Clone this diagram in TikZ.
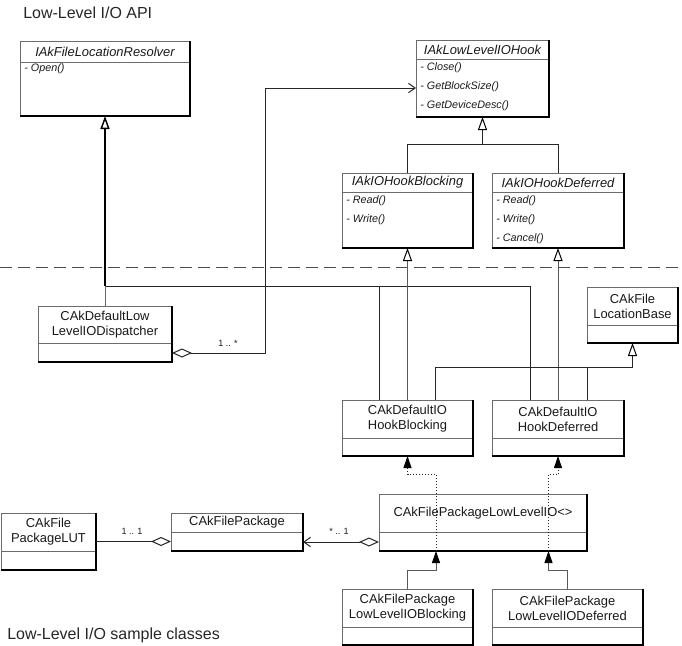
\documentclass[tikz,border=0pt]{standalone}
\usepackage{fontspec}
\setmainfont{Liberation Sans}
\usetikzlibrary{arrows.meta}
\definecolor{bgray}{gray}{0.42}
\newcommand\boxdeco[2]{%
  \draw[sepl] (#1.west |- 0,#2) -- (#1.east |- 0,#2);
  \draw[shadeedge] (#1.north east) -- (#1.south east) -- (#1.south west);}
\begin{document}
\begin{tikzpicture}[x=0.75pt,y=-0.75pt,
  cls/.style={draw=bgray,line width=0.75pt,inner sep=0pt,outer sep=0pt,anchor=north west},
  shadeedge/.style={draw=black,line width=1.3pt},
  sepl/.style={draw=bgray,line width=0.75pt},
  cname/.style={font=\fontsize{9.7}{11.25}\selectfont,align=center,inner sep=0pt,text=black!90},
  iname/.style={font=\fontsize{9.7}{11.25}\selectfont\itshape,inner sep=0pt,text=black!90},
  member/.style={font=\fontsize{8.1}{9}\selectfont\itshape,anchor=west,inner sep=0pt,text=black!90},
  mult/.style={font=\fontsize{6.8}{8}\selectfont,inner sep=0pt,text=black!90},
  heading/.style={font=\fontsize{12}{14}\selectfont,anchor=west,inner sep=0pt,text=black!85},
  conn/.style={draw=black!85,line width=0.75pt},
  gen/.style={conn,-{Triangle[open,length=9.75pt,width=6.75pt,fill=white,color=black]}},
  real/.style={conn,-{Triangle[length=9pt,width=6pt,color=black]}},
  aggnav/.style={conn,{Diamond[open,length=15pt,width=6.75pt,fill=white]}-{Straight Barb[length=5pt,width=7pt]}},
  aggl/.style={conn,{Diamond[open,length=15pt,width=6.75pt,fill=white]}-},
  dots/.style={dash pattern=on 0.75pt off 1.5pt}
]
\useasboundingbox (0,0) rectangle (682,646);

% headings
\node[heading] (h1) at (23,13) {Low-Level I/O API};
\node[heading] (h2) at (7,635) {Low-Level I/O sample classes};

% dashed separator
\draw[draw=black!70,line width=0.75pt,dash pattern=on 9pt off 4.5pt] (0,267) -- (682,267);

% ---------- boxes ----------
\node[cls,minimum width=127.5pt,minimum height=56.25pt] (res) at (20,41) {};
\node[cls,minimum width=99.75pt,minimum height=57.75pt] (hook) at (416,40) {};
\node[cls,minimum width=98.25pt,minimum height=56.25pt] (blk) at (342,173) {};
\node[cls,minimum width=99pt,minimum height=56.25pt] (dfr) at (492,173) {};
\node[cls,minimum width=100.5pt,minimum height=42pt] (disp) at (38,306) {};
\node[cls,minimum width=68.25pt,minimum height=42pt] (locb) at (587,287) {};
\node[cls,minimum width=98.25pt,minimum height=42pt] (dblk) at (342,400) {};
\node[cls,minimum width=99pt,minimum height=42pt] (ddfr) at (492,400) {};
\node[cls,minimum width=156pt,minimum height=42.75pt] (fpio) at (379,494) {};
\node[cls,minimum width=71.25pt,minimum height=42.75pt] (lut) at (1,513) {};
\node[cls,minimum width=99pt,minimum height=28.5pt] (fpk) at (171,513) {};
\node[cls,minimum width=98.25pt,minimum height=42pt] (fpb) at (342,589) {};
\node[cls,minimum width=113.25pt,minimum height=42pt] (fpd) at (492,589) {};

\boxdeco{res}{62}
\boxdeco{hook}{59}
\boxdeco{blk}{192}
\boxdeco{dfr}{192}
\boxdeco{disp}{343}
\boxdeco{locb}{325}
\boxdeco{dblk}{438}
\boxdeco{ddfr}{438}
\boxdeco{fpio}{532}
\boxdeco{lut}{551}
\boxdeco{fpk}{532}
\boxdeco{fpb}{627}
\boxdeco{fpd}{627}

% ---------- texts ----------
\node[iname] (res-t) at (105,51.5) {IAkFileLocationResolver};
\node[member] (res-m1) at (24,69) {- Open()};

\node[iname] (hook-t) at (482.5,49.5) {IAkLowLevelIOHook};
\node[member] (hook-m1) at (420,68) {- Close()};
\node[member] (hook-m2) at (420,87) {- GetBlockSize()};
\node[member] (hook-m3) at (420,106) {- GetDeviceDesc()};

\node[iname] (blk-t) at (407.5,182.5) {IAkIOHookBlocking};
\node[member] (blk-m1) at (346,201) {- Read()};
\node[member] (blk-m2) at (346,220) {- Write()};

\node[iname] (dfr-t) at (558,182.5) {IAkIOHookDeferred};
\node[member] (dfr-m1) at (496,201) {- Read()};
\node[member] (dfr-m2) at (496,220) {- Write()};
\node[member] (dfr-m3) at (496,239) {- Cancel()};

\node[cname] (disp-t) at (105,324.5) {CAkDefaultLow\\LevelIODispatcher};
\node[cname] (locb-t) at (632.5,306) {CAkFile\\LocationBase};
\node[cname] (dblk-t) at (407.5,419) {CAkDefaultIO\\HookBlocking};
\node[cname] (ddfr-t) at (558,419) {CAkDefaultIO\\HookDeferred};
\node[cname] (fpio-t) at (483,513) {CAkFilePackageLowLevelIO<>};
\node[cname] (lut-t) at (48.5,532) {CAkFile\\PackageLUT};
\node[cname] (fpk-t) at (237,522.5) {CAkFilePackage};
\node[cname] (fpb-t) at (407.5,608) {CAkFilePackage\\LowLevelIOBlocking};
\node[cname] (fpd-t) at (567.5,608) {CAkFilePackage\\LowLevelIODeferred};

% ---------- connectors ----------
% IAkFileLocationResolver generalization
\coordinate (j1) at (105,286);
\draw[conn] (379,0 |- dblk.north) |- (j1);
\draw[conn] (530,0 |- ddfr.north) |- (j1);
\draw[conn,draw=black!60] (disp.north) -- (j1);
\draw[gen,draw=black,line width=1.1pt] (j1) -- (res.south);

% IAkLowLevelIOHook generalization
\coordinate (j2) at (482.5,144);
\draw[conn] (blk.north) |- (j2);
\draw[conn] (dfr.north) |- (j2);
\draw[gen] (j2) -- (hook.south);

% default hooks realize interfaces
\draw[gen,draw=black!65] (dblk.north) -- (blk.south);
\draw[gen,draw=black!65] (ddfr.north) -- (dfr.south);

% CAkFileLocationBase generalization
\coordinate (j3) at (632.5,367);
\draw[conn] (435,0 |- dblk.north) |- (j3);
\draw[conn] (587,0 |- ddfr.north) |- (j3);
\draw[gen] (j3) -- (locb.south);

% dispatcher association to IAkLowLevelIOHook
\draw[aggnav] (disp.east |- 0,353) -| (265,88) -- (hook.west |- 0,88);
\node[mult] (m1) at (228,343) {1 .. *};

% LUT - FilePackage
\draw[aggl] (fpk.west |- lut.east) -- (lut.east);
\node[mult] (m2) at (132,531) {1 .. 1};

% FilePackageLowLevelIO - FilePackage
\draw[aggnav] (fpio.west |- 0,542) -- (fpk.east |- 0,542);
\node[mult] (m3) at (339,531) {* .. 1};

% samples derive from template
\draw[real,draw=black!65] (fpb.north) |- (436,570) -- (436,0 |- fpio.south);
\draw[real,draw=black!65] (fpd.north) |- (548.5,570) -- (548.5,0 |- fpio.south);

% template bindings (dotted)
\draw[real,dots] (436,0 |- fpio.south) -- (436,474) -| (dblk.south);
\draw[real,dots] (548.5,0 |- fpio.south) -- (548.5,474) -| (ddfr.south);
\end{tikzpicture}
\end{document}
